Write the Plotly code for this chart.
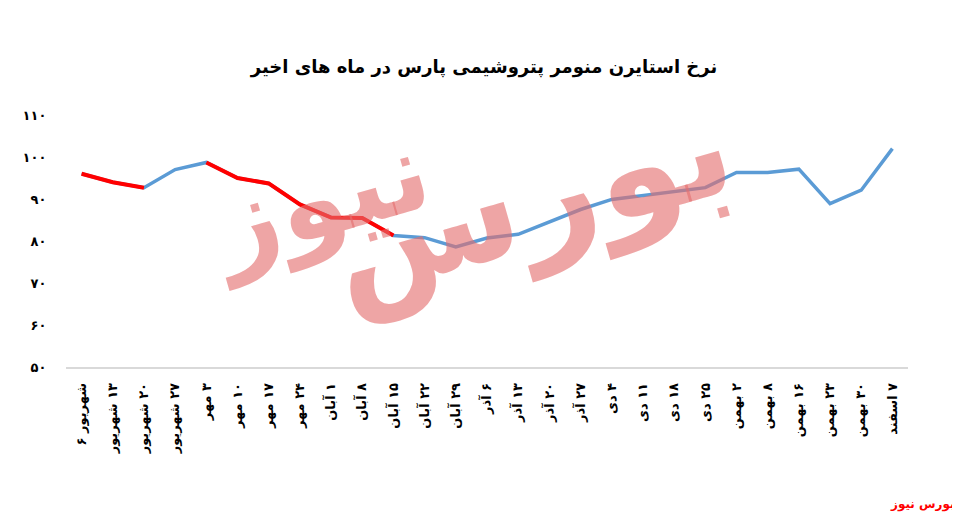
import plotly.graph_objects as go

# weekly dates (Persian calendar) and price of styrene monomer
RLM = "\u200f"
dates = [
    "شهریور ۶", "۱۳ شهریور", "۲۰ شهریور", "۲۷ شهریور",
    "۳ مهر", "۱۰ مهر", "۱۷ مهر", "۲۴ مهر",
    "۱ آبان", "۸ آبان", "۱۵ آبان", "۲۲ آبان", "۲۹ آبان",
    "۶ آذر", "۱۳ آذر", "۲۰ آذر", "۲۷ آذر",
    "۴ دی", "۱۱ دی", "۱۸ دی", "۲۵ دی",
    "۲ بهمن", "۸ بهمن", "۱۶ بهمن", "۲۳ بهمن", "۳۰ بهمن",
    "۷ اسفند",
]
prices = [96.0, 94.0, 92.7, 97.0, 98.7, 95.0, 93.7, 88.7, 85.6, 85.5,
          81.3, 80.8, 78.6, 80.7, 81.6, 84.5, 87.5, 89.9, 90.9, 91.8,
          92.7, 96.3, 96.3, 97.1, 88.9, 92.1, 102.0]
# stretches of the series drawn in red (first, last index)
red_ranges = [(0, 2), (4, 10)]

y_ticks = [50, 60, 70, 80, 90, 100, 110]
y_ticktext = ["۵۰", "۶۰", "۷۰", "۸۰", "۹۰", "۱۰۰", "۱۱۰"]

red_y = [None] * len(prices)
for a, b in red_ranges:
    for i in range(a, b + 1):
        red_y[i] = prices[i]

# number first when read down the rotated label (first label is the odd one)
x_ticktext = ["<b>%s</b>" % d if i == 0 else "<b>%s%s</b>" % (RLM, d)
              for i, d in enumerate(dates)]

FONT = "DejaVu Sans"
WM = "rgba(228,110,110,0.62)"

fig = go.Figure()
fig.add_trace(go.Scatter(
    x=dates, y=prices, mode="lines",
    line=dict(color="#5B9BD5", width=3.5),
    hoverinfo="skip", showlegend=False,
))
fig.add_trace(go.Scatter(
    x=dates, y=red_y, mode="lines", connectgaps=False,
    line=dict(color="#FF0000", width=4),
    hoverinfo="skip", showlegend=False,
))

# watermark logo
fig.add_annotation(
    text="<b>بورس</b>", xref="paper", yref="paper",
    x=0.55, y=0.67, xanchor="center", yanchor="middle",
    showarrow=False, textangle=-16,
    font=dict(family=FONT, size=140, color=WM),
)
fig.add_annotation(
    text="<b>نیوز</b>", xref="paper", yref="paper",
    x=0.30, y=0.67, xanchor="center", yanchor="middle",
    showarrow=False, textangle=-16,
    font=dict(family=FONT, size=110, color=WM),
)

fig.add_annotation(
    text="<b>بورس نیوز</b>", xref="paper", yref="paper",
    x=1.058, y=-0.544, xanchor="right", yanchor="middle", showarrow=False,
    font=dict(family=FONT, size=12, color="#FF0000"),
)

fig.update_layout(
    width=952, height=511,
    margin=dict(l=58, r=52, t=107, b=152),
    paper_bgcolor="white", plot_bgcolor="white",
    title=dict(
        text="<b>نرخ استایرن منومر پتروشیمی پارس در ماه های اخیر</b>",
        x=0.5, xanchor="center", y=0.885, yanchor="middle",
        font=dict(family=FONT, size=18, color="black"),
    ),
    font=dict(family=FONT, color="black"),
)
fig.update_xaxes(
    type="category", range=[-0.5, len(dates) - 0.5],
    tickvals=dates, ticktext=x_ticktext,
    showgrid=False, zeroline=False,
    showline=True, linecolor="#D9D9D9", linewidth=1.5,
    tickangle=-90, ticks="outside", ticklen=9, tickcolor="white",
    tickfont=dict(family=FONT, size=13, color="black"),
)
fig.update_yaxes(
    range=[50, 110], tickvals=y_ticks,
    ticktext=["<b>%s</b>" % t for t in y_ticktext],
    showgrid=False, zeroline=False, showline=False,
    ticks="outside", ticklen=16, tickcolor="white",
    tickfont=dict(family=FONT, size=13, color="black"),
)

fig.write_html("out.html")
